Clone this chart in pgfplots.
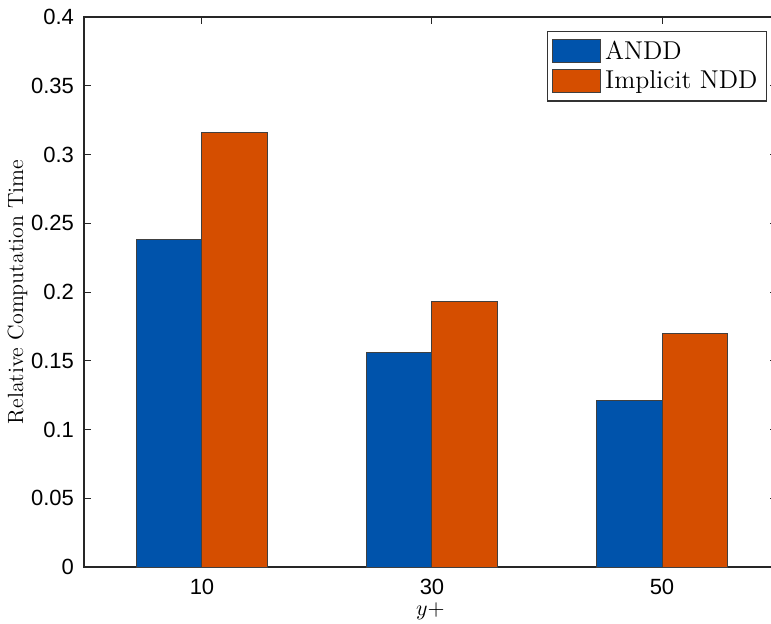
\documentclass[border=0pt]{standalone}
\usepackage{fontspec}
\newfontfamily\helv{Liberation Sans}
\usepackage{pgfplots}
\pgfplotsset{compat=1.18}
\definecolor{mblue}{RGB}{0,83,171}
\definecolor{morange}{RGB}{213,78,0}
\begin{document}
\begin{tikzpicture}
\path[use as bounding box] (-42pt,-28pt) rectangle (343.5pt,283.5pt);
\begin{axis}[
  at={(0,0)}, anchor=south west,
  scale only axis, width=346.5pt, height=275pt,
  xmin=0.487, xmax=3.5, ymin=0, ymax=0.4,
  ybar=0pt,
  xtick={1,2,3}, xticklabels={10,30,50},
  ytick={0,0.05,0.1,0.15,0.2,0.25,0.3,0.35,0.4},
  yticklabels={0,0.05,0.1,0.15,0.2,0.25,0.3,0.35,0.4},
  tick label style={font=\helv\fontsize{11}{13}\selectfont},
  xticklabel style={yshift=-2.5pt},
  yticklabel style={xshift=-1.5pt},
  /pgf/number format/assume math mode=true,
  tick align=inside, major tick length=3.5pt,
  tick style={black!85, line width=0.5pt},
  axis line style={black!85, line width=0.6pt},
  xtick pos=both, ytick pos=both,
  xlabel={$y+$}, ylabel={Relative Computation Time},
  xlabel style={font=\fontsize{11}{13}\selectfont, yshift=3pt},
  ylabel style={font=\fontsize{11}{13}\selectfont, yshift=-5pt},
  legend image code/.code={\draw[#1,draw=black!75,line width=0.5pt] (0pt,-5.75pt) rectangle (24pt,5.75pt);},
  legend style={at={(rel axis cs:1,1)}, anchor=north east, xshift=-5pt, yshift=-7pt,
    font=\fontsize{12.9}{15}\selectfont, draw=black!80, line width=0.6pt,
    row sep=0.5pt, inner sep=2.5pt},
  legend cell align=left,
]
\addplot[fill=mblue, draw=black!75, line width=0.5pt, bar width=0.285, bar shift=-0.1425]
  coordinates {(1,0.238) (2,0.156) (3,0.121)};
\addlegendentry{ANDD}
\addplot[fill=morange, draw=black!75, line width=0.5pt, bar width=0.285, bar shift=0.1425]
  coordinates {(1,0.316) (2,0.193) (3,0.170)};
\addlegendentry{Implicit NDD}
\end{axis}
\end{tikzpicture}
\end{document}
